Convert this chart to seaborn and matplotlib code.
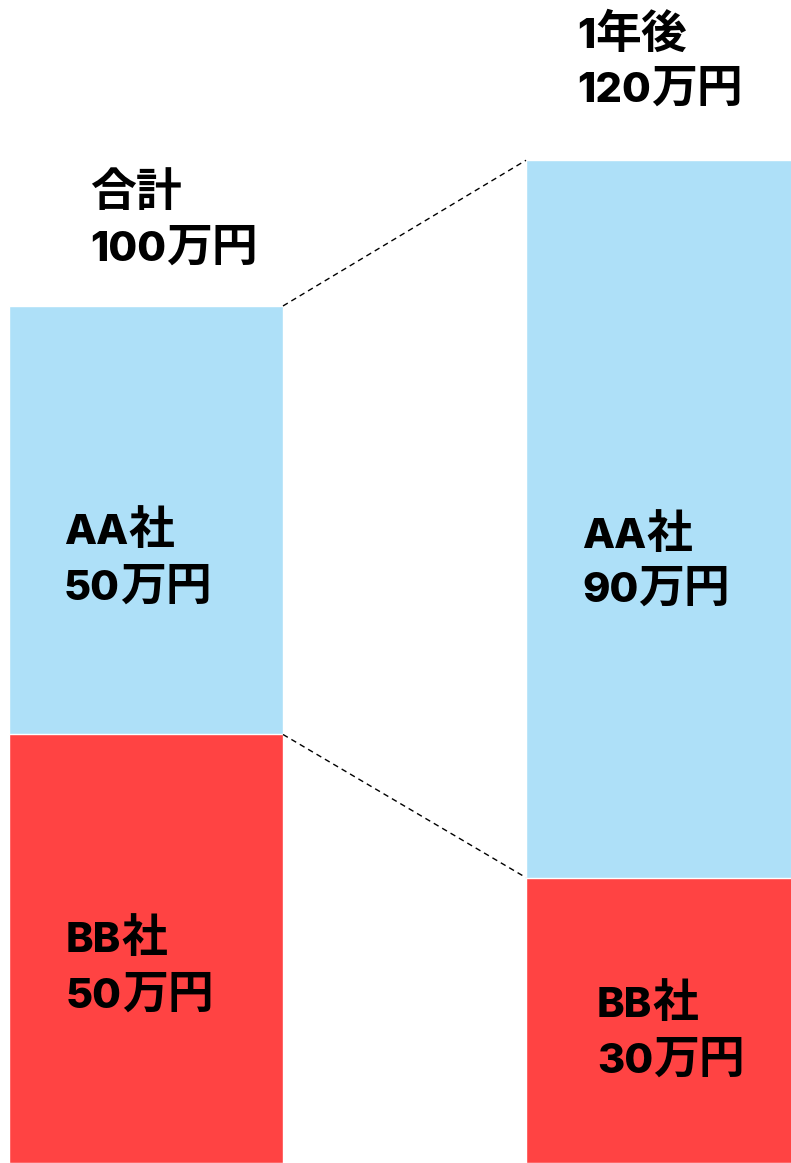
import matplotlib
matplotlib.use("Agg")
import matplotlib.pyplot as plt
import pandas as pd
import seaborn as sns
from itertools import groupby

# Data
periods = ["現在", "1年後"]
aa_height = [50, 83.7]   # drawn bar heights (as in picture)
bb_height = [50, 33.3]
aa_labels = ["AA社\n50万円", "AA社\n90万円"]
bb_labels = ["BB社\n50万円", "BB社\n30万円"]
total_labels = ["合計\n100万円", "1年後\n120万円"]

blue = "#AEE0F8"
red = "#FF4343"

sns.set_theme(style="white")
plt.rcParams["font.family"] = ["Noto Sans CJK JP", "DejaVu Sans"]

df = pd.DataFrame({"period": periods, "aa": aa_height, "bb": bb_height})
df["total"] = df["aa"] + df["bb"]

W, H = 791, 1163
fig = plt.figure(figsize=(W / 100, H / 100), dpi=100)
ax = fig.add_axes([0, 0, 1, 1])

bar_w = 0.53
sns.barplot(data=df, x="period", y="total", color=blue, width=bar_w,
            saturation=1, ax=ax)
sns.barplot(data=df, x="period", y="bb", color=red, width=bar_w,
            saturation=1, ax=ax)

# connecting dashed lines
for col in ["total", "bb"]:
    ax.plot([bar_w / 2, 1 - bar_w / 2], df[col].values, ls=(0, (4, 3)),
            color="black", lw=1)

ax.set_xlim(-0.2824, 1.2476)
ax.set_ylim(0, 135.7)
ax.axis("off")

renderer = fig.canvas.get_renderer()
LATIN = dict(family=["Inter", "DejaVu Sans"], fontsize=30, fontweight="heavy")
CJK = dict(family=["Noto Sans CJK JP", "DejaVu Sans"], fontsize=33,
           fontweight="bold")


def put(x, y, s, pitch=55):
    """Draw a two-line label; y is the baseline of the first line (px from top)."""
    for i, line in enumerate(s.split("\n")):
        cx = x
        base = y + i * pitch
        for cjk, chars in groupby(line, key=lambda c: ord(c) > 0x2E80):
            run = "".join(chars)
            t = fig.text(cx / W, 1 - base / H, run, va="baseline",
                         ha="left", color="black", **(CJK if cjk else LATIN))
            cx += t.get_window_extent(renderer).width


put(90, 206, total_labels[0])
put(577, 48, total_labels[1], pitch=54)
put(64, 544, aa_labels[0], pitch=56)
put(582, 548, aa_labels[1], pitch=54)
put(66, 952, bb_labels[0], pitch=56)
put(597, 1017, bb_labels[1], pitch=56)

fig.savefig("out.png", dpi=100)
